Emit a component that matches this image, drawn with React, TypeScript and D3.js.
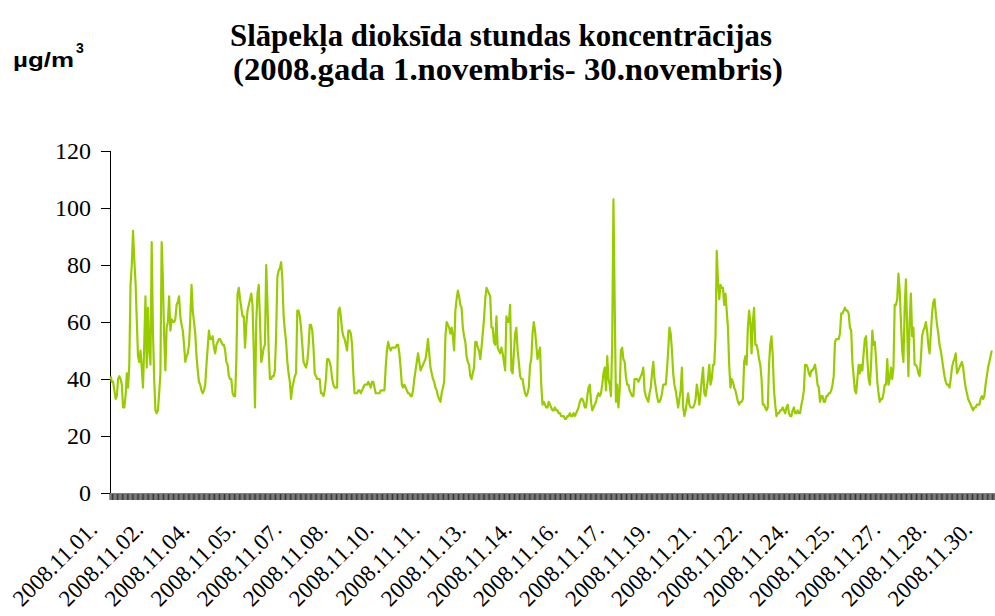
import React from 'react';
import * as d3 from 'd3';

// Hourly NO2 concentrations, µg/m3, 2008-11-01 00:00 onward (right edge of the chart is cropped)
const day01 = [41,39,39,36,33,34,40,41,40,38,30,30,34,42,37,45,73,80,92,82,74,61,48,46];
const day02 = [50,44,37,52,69,44,65,50,45,88,57,40,29,28,29,35,42,88,75,55,43,58,60,69];
const day03 = [57,61,60,60,61,66,67,69,62,59,57,52,46,48,49,52,61,73,64,60,56,48,43,39];
const day04 = [38,36,35,36,38,45,51,57,54,54,55,51,49,52,53,54,54,53,52,52,50,46,45,41];
const day05 = [40,40,35,34,34,46,70,72,68,65,62,62,51,59,64,66,68,70,66,50,30,60,70,73];
const day06 = [61,46,48,51,52,80,67,50,40,40,41,41,43,56,76,78,79,81,75,62,57,53,46,42];
const day07 = [39,33,37,39,41,42,64,64,62,58,52,46,45,44,46,51,59,59,57,51,42,41,40,40];
const day08 = [40,35,35,34,36,40,47,47,46,44,40,38,37,37,37,64,65,62,57,55,54,52,50,57];
const day09 = [57,56,52,42,35,35,35,36,36,35,36,37,38,38,38,39,38,37,39,39,37,35,35,35];
const day10 = [35,36,36,36,36,44,50,53,51,50,51,51,51,51,52,52,49,44,38,37,38,37,36,35];
const day11 = [35,34,34,36,40,43,46,49,46,43,44,45,46,47,50,54,49,44,42,40,39,37,36,34];
const day12 = [33,32,35,37,39,55,60,59,58,56,58,55,50,64,68,71,69,66,65,58,55,53,48,46];
const day13 = [45,41,40,42,44,53,53,51,50,47,51,56,61,68,72,71,70,69,58,58,53,52,62,51];
const day14 = [50,49,51,49,46,43,62,60,60,66,43,42,49,56,58,50,46,41,40,40,37,35,34,35];
const day15 = [37,45,47,56,60,57,52,47,49,51,38,31,32,31,30,30,32,31,30,29,29,30,29,29];
const day16 = [28,28,27,27,27,26,26,27,27,28,27,27,28,27,28,29,30,32,33,33,32,30,30,34];
const day17 = [37,38,32,29,30,31,32,34,35,34,35,38,42,44,36,48,40,38,34,52,103,67,32,38];
const day18 = [30,36,50,51,47,46,41,38,38,36,35,34,34,40,40,40,39,40,41,42,44,36,34,33];
const day19 = [32,35,37,42,46,40,37,34,32,32,33,35,38,38,38,43,50,58,56,50,42,38,36,33];
const day20 = [30,33,36,44,30,27,29,32,35,31,30,30,30,31,33,38,35,31,35,40,44,35,34,37];
const day21 = [40,45,38,40,45,45,55,85,74,68,73,72,72,66,70,64,58,45,37,40,39,37,36,34];
const day22 = [32,31,32,32,33,46,48,45,58,64,60,49,60,65,52,52,50,47,45,40,31,31,30,29];
const day23 = [30,45,52,55,48,36,31,27,28,28,29,29,30,29,28,30,31,28,27,27,29,30,28,28];
const day24 = [29,28,28,31,33,36,45,45,44,42,41,43,43,44,45,42,38,37,32,34,34,32,32,34];
const day25 = [34,35,35,36,38,41,53,54,54,54,56,63,63,64,65,64,64,63,58,57,46,41,36,35];
const day26 = [40,45,42,45,43,49,54,55,47,40,38,45,57,52,53,47,39,35,32,33,33,35,38,38];
const day27 = [47,38,40,44,40,44,66,66,68,77,71,60,50,46,65,75,58,41,60,70,55,58,45,45];
const day28 = [44,42,41,47,55,57,58,60,57,52,49,56,63,67,68,63,59,56,52,50,47,44,41,39];
const day29 = [38,38,37,40,44,46,47,49,42,43,44,45,46,44,40,37,35,33,32,31,30,29,30,30];
const day30 = [31,31,31,33,34,33,34,38,41,44,46,48,50];

const no2Values: number[] = [
  ...day01, ...day02, ...day03, ...day04, ...day05, ...day06, ...day07, ...day08, ...day09, ...day10,
  ...day11, ...day12, ...day13, ...day14, ...day15, ...day16, ...day17, ...day18, ...day19, ...day20,
  ...day21, ...day22, ...day23, ...day24, ...day25, ...day26, ...day27, ...day28, ...day29, ...day30,
];

const hourCount = 720; // hourly categories for November
const labelEvery = 37; // one category label every 37 hours
const xTickLabels = [
  '2008.11.01.', '2008.11.02.', '2008.11.04.', '2008.11.05.', '2008.11.07.',
  '2008.11.08.', '2008.11.10.', '2008.11.11.', '2008.11.13.', '2008.11.14.',
  '2008.11.16.', '2008.11.17.', '2008.11.19.', '2008.11.21.', '2008.11.22.',
  '2008.11.24.', '2008.11.25.', '2008.11.27.', '2008.11.28.', '2008.11.30.',
];
const yTickValues = [0, 20, 40, 60, 80, 100, 120];
const titleLine1 = 'Slāpekļa dioksīda stundas koncentrācijas';
const titleLine2 = '(2008.gada 1.novembris- 30.novembris)';

const SERIF = "'Liberation Serif', 'DejaVu Serif', 'Times New Roman', Times, serif";
const SANS = "'Liberation Sans', Arial, Helvetica, sans-serif";

export default function App() {
  const W = 995;
  const H = 616;
  const left = 110;
  const bandW = 1.2446;
  const top = 151;
  const bottom = 493;

  const x = d3
    .scaleBand<number>()
    .domain(d3.range(hourCount))
    .range([left, left + hourCount * bandW])
    .paddingInner(0)
    .paddingOuter(0);
  const bw = x.bandwidth();
  const y = d3.scaleLinear().domain([0, 120]).range([bottom, top]);

  const line = d3
    .line<number>()
    .defined((d) => d != null)
    .x((_, i) => (x(i) as number) + bw / 2)
    .y((d) => y(d));

  const catTicks = d3.range(hourCount + 1).map((i) => left + i * bw);
  const serifStyle = { fontFamily: SERIF };
  const sansStyle = { fontFamily: SANS };

  return (
    <svg
      width={W}
      height={H}
      style={{ position: 'absolute', left: 0, top: 0, background: '#fff' }}
      xmlns="http://www.w3.org/2000/svg"
    >
      <rect x={0} y={0} width={W} height={H} fill="#fff" />
      {/* title */}
      <text x={501} y={46} textAnchor="middle" style={serifStyle} fontWeight="bold" fontSize={32}
        textLength={542} lengthAdjust="spacingAndGlyphs">{titleLine1}</text>
      <text x={508} y={80} textAnchor="middle" style={serifStyle} fontWeight="bold" fontSize={32}
        textLength={550} lengthAdjust="spacingAndGlyphs">{titleLine2}</text>
      {/* unit */}
      <text x={13} y={67} style={sansStyle} fontWeight="bold" fontSize={21}
        textLength={61} lengthAdjust="spacingAndGlyphs">µg/m</text>
      <text x={76} y={53} style={sansStyle} fontWeight="bold" fontSize={14}>3</text>

      {/* y axis */}
      <line x1={left} x2={left} y1={top} y2={bottom} stroke="#000" strokeWidth={1} shapeRendering="crispEdges" />
      {yTickValues.map((v) => (
        <g key={v}>
          <line x1={left - 9} x2={left} y1={y(v)} y2={y(v)} stroke="#000" strokeWidth={1} shapeRendering="crispEdges" />
          <text x={91} y={y(v)} dy="0.35em" textAnchor="end" style={serifStyle} fontSize={24}>{v}</text>
        </g>
      ))}

      {/* x axis category ticks */}
      <g stroke="#000" strokeWidth={0.8}>
        {catTicks.map((t, i) => (
          <line key={i} x1={t} x2={t} y1={bottom} y2={bottom + 7} />
        ))}
      </g>
      <line x1={left} x2={left + hourCount * bw} y1={bottom} y2={bottom} stroke="#808080" strokeWidth={1} shapeRendering="crispEdges" />

      {xTickLabels.map((lab, k) => {
        const cx = (x(k * labelEvery) as number) + bw / 2;
        return (
          <text key={lab} transform={`translate(${cx - 12},${531}) rotate(-45)`} textAnchor="end"
            style={serifStyle} fontSize={23}>{lab}</text>
        );
      })}

      {/* data line */}
      <path d={line(no2Values) || ''} fill="none" stroke="#99cc00" strokeWidth={2.2} strokeLinejoin="round" />
    </svg>
  );
}
